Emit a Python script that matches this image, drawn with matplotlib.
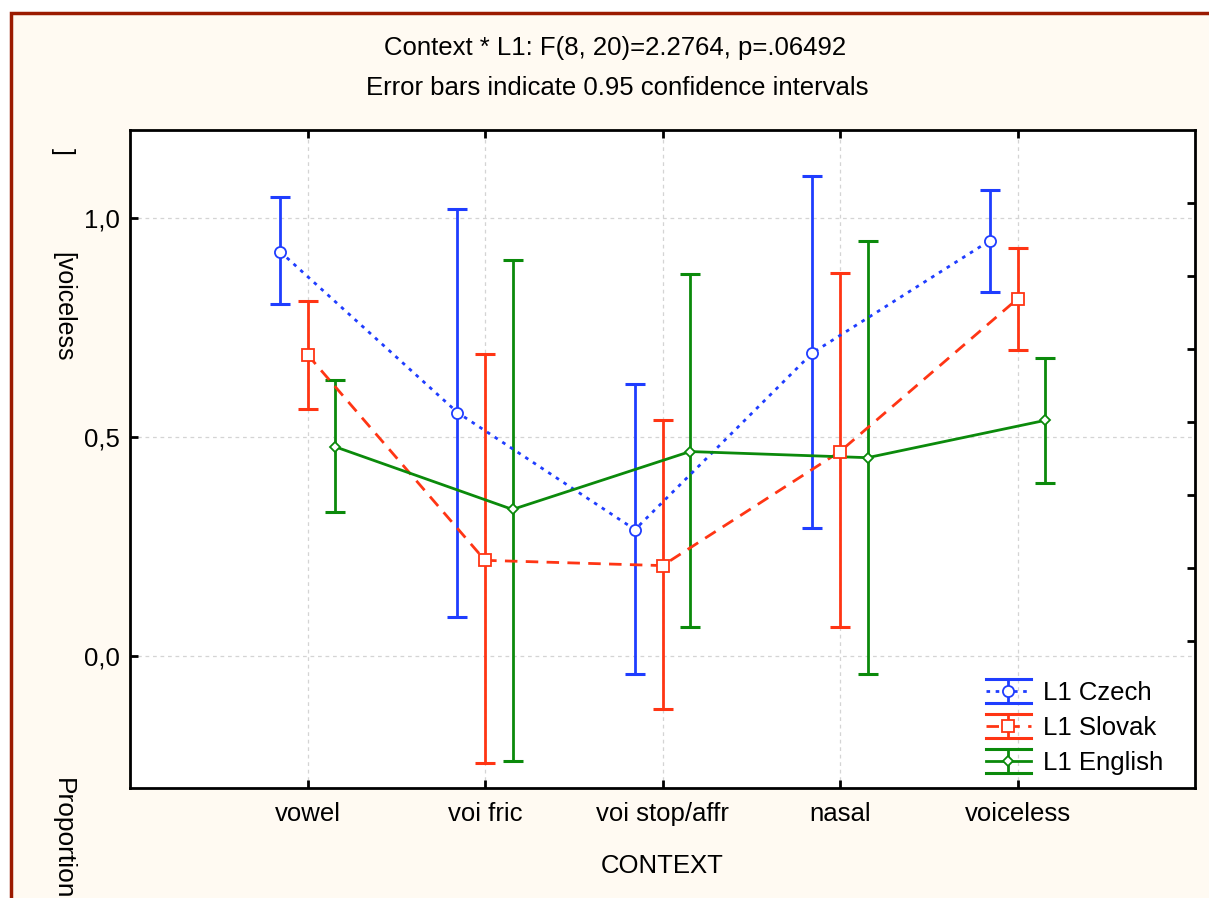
import numpy as np
import matplotlib
matplotlib.use("Agg")
from matplotlib import pyplot as plt
from matplotlib.lines import Line2D
from matplotlib.legend_handler import HandlerBase
from matplotlib.patches import Rectangle

# data (proportion voiceless, 0.95 CI)
contexts = ["vowel", "voi fric", "voi stop/affr", "nasal", "voiceless"]
groups = ["L1 Czech", "L1 Slovak", "L1 English"]

czech_mean = [0.923, 0.556, 0.289, 0.692, 0.948]
czech_hi = [1.048, 1.021, 0.620, 1.096, 1.064]
czech_lo = [0.804, 0.089, -0.039, 0.292, 0.831]

slovak_mean = [0.688, 0.219, 0.207, 0.467, 0.815]
slovak_hi = [0.811, 0.690, 0.538, 0.875, 0.932]
slovak_lo = [0.565, -0.244, -0.121, 0.068, 0.699]

english_mean = [0.478, 0.335, 0.467, 0.453, 0.538]
english_hi = [0.631, 0.904, 0.872, 0.948, 0.681]
english_lo = [0.330, -0.239, 0.068, -0.041, 0.396]

y_ticks = [0.0, 0.5, 1.0]

plt.rcParams['font.family'] = ['Liberation Sans', 'DejaVu Sans']


class ErrHandler(HandlerBase):
    """legend entry drawn like statistica: two caps, a bar and the line with marker"""
    def create_artists(self, legend, orig_handle, xdescent, ydescent, width, height, fontsize, trans):
        c = orig_handle.get_color()
        x0, x1 = -xdescent, width - xdescent
        xm = (x0 + x1) / 2
        yc = height / 2 - ydescent
        d = height * 0.66
        arts = [
            Line2D([x0, x1], [yc + d, yc + d], color=c, lw=2.2),
            Line2D([x0, x1], [yc - d, yc - d], color=c, lw=2.2),
            Line2D([xm, xm], [yc - d, yc + d], color=c, lw=2.0),
        ]
        ln = Line2D([x0, x1], [yc, yc], color=c, lw=2.0)
        if orig_handle.dash is not None:
            ln.set_dashes(orig_handle.dash)
        arts.append(ln)
        arts.append(Line2D([xm], [yc], marker=orig_handle.get_marker(), markersize=orig_handle.get_markersize(),
                           markerfacecolor='white', markeredgecolor=c, markeredgewidth=1.3, linestyle='none'))
        for a in arts:
            a.set_transform(trans)
        return arts


fig = plt.figure(figsize=(12.09, 8.98), dpi=100)
fig.patch.set_facecolor('white')
fig.patches.append(Rectangle((11 / 1209, -0.2), 1.3, 1.2 - 13 / 898, transform=fig.transFigure,
                             facecolor='#fffaf2', edgecolor='#9b1a00', lw=2.5, zorder=-10))

ax = fig.add_axes([130 / 1209, 1 - 788 / 898, 1065 / 1209, 658 / 898])
ax.set_facecolor('white')

x = np.arange(len(contexts))
off = 0.155
series = [
    (czech_mean, czech_lo, czech_hi, '#1f3dff', (1.3, 2.0), 'o', -off),
    (slovak_mean, slovak_lo, slovak_hi, '#ff3514', (4.5, 3.0), 's', 0.0),
    (english_mean, english_lo, english_hi, '#0b8a0b', None, 'D', off),
]

handles = []
for (m, lo, hi, col, dash, mk, dx), name in zip(series, groups):
    m = np.array(m)
    lo = np.array(lo)
    hi = np.array(hi)
    xs = x + dx
    ax.errorbar(xs, m, yerr=[m - lo, hi - m], fmt='none', ecolor=col, elinewidth=2.0,
                capsize=7, capthick=2.2, zorder=3)
    ln, = ax.plot(xs, m, color=col, lw=2.0, zorder=4)
    if dash is not None:
        ln.set_dashes(dash)
    ms = 5.5 if mk == 'D' else 8
    ax.plot(xs, m, linestyle='none', marker=mk, markersize=ms, markerfacecolor='white',
            markeredgecolor=col, markeredgewidth=1.3, zorder=5)
    h = Line2D([], [], color=col, lw=2.0, marker=mk, markersize=ms, label=name)
    h.dash = dash
    handles.append(h)

ax.set_xlim(-1, 5)
ax.set_ylim(-0.3, 1.2)
ax.set_xticks(x)
ax.set_xticklabels(contexts, fontsize=18.5)
ax.set_yticks(y_ticks)
ax.set_yticklabels([f"{v:.1f}".replace('.', ',') for v in y_ticks], fontsize=18.5)
ax.grid(True, color='#d4d4d4', linestyle=(0, (3, 3)), lw=0.9, zorder=0)
ax.tick_params(direction='in', length=6, width=2, top=True)
ax.tick_params(axis='x', pad=10)
ax.tick_params(axis='y', pad=7)
for s in ax.spines.values():
    s.set_linewidth(2.0)

# right side ticks, own spacing as in the original
ax2 = ax.twinx()
ax2.set_ylim(-0.3, 1.2)
ax2.set_yticks(np.arange(0.034, 1.1, 1 / 6))
ax2.set_yticklabels([])
ax2.tick_params(direction='in', length=6, width=2)
for s in ax2.spines.values():
    s.set_visible(False)

ax.set_xlabel("CONTEXT", fontsize=18.5)
ax.xaxis.set_label_coords((662 - 130) / 1065, (788 - 866) / 658)
ax.xaxis.label.set_verticalalignment('center')

fig.text(615 / 1209, 1 - 48 / 898, "Context * L1: F(8, 20)=2.2764, p=.06492", ha='center', va='center', fontsize=18.5)
fig.text(617 / 1209, 1 - 88 / 898, "Error bars indicate 0.95 confidence intervals", ha='center', va='center', fontsize=18.5)

# y label comes out broken in the original export
fig.text(63 / 1209, 1 - 148 / 898, "]", rotation=270, ha='center', va='top', fontsize=18)
fig.text(63 / 1209, 1 - 252 / 898, "[voiceless", rotation=270, ha='center', va='top', fontsize=18)
fig.text(63 / 1209, 1 - 778 / 898, "Proportion", rotation=270, ha='center', va='top', fontsize=19)

leg = ax.legend(handles=handles, handler_map={Line2D: ErrHandler()}, loc='lower right',
                bbox_to_anchor=(1 - 12 / 1065, -6 / 658), frameon=False, fontsize=18.5, handlelength=1.75,
                handletextpad=0.5, labelspacing=0.42, borderaxespad=0.35)

fig.savefig("out.png", dpi=100)
